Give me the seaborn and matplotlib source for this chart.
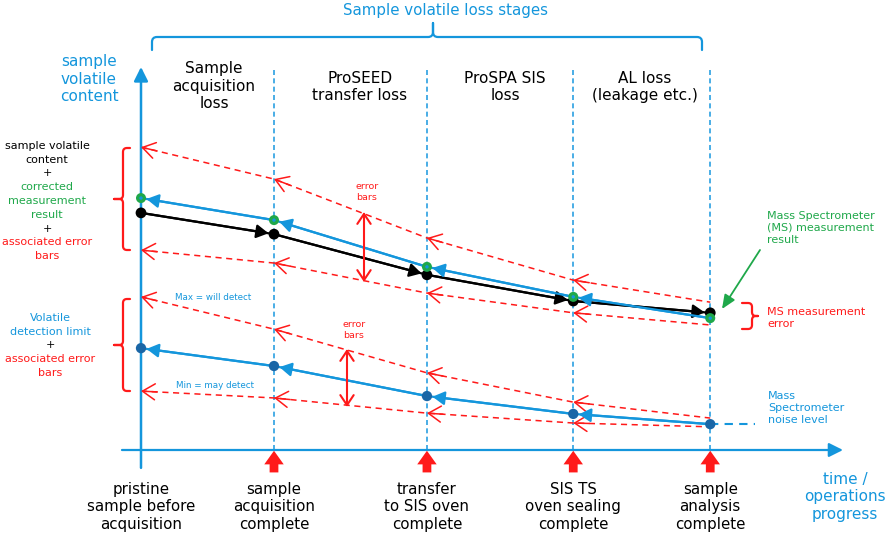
import numpy as np
import pandas as pd
import matplotlib
matplotlib.use('Agg')
import matplotlib.pyplot as plt
import matplotlib.transforms as mtransforms
from matplotlib.path import Path
from matplotlib.patches import PathPatch
import seaborn as sns

# progress of operations along the time axis (one value per stage)
stage_time = [0.0, 1.0, 2.15, 3.25, 4.28]
stage_labels = ['pristine\nsample before\nacquisition', 'sample\nacquisition\ncomplete',
                'transfer\nto SIS oven\ncomplete', 'SIS TS\noven sealing\ncomplete',
                'sample\nanalysis\ncomplete']
loss_labels = ['Sample\nacquisition\nloss', 'ProSEED\ntransfer loss', 'ProSPA SIS\nloss',
               'AL loss\n(leakage etc.)']

# sample volatile content (arbitrary units, 0 = time axis, 100 = top of axis)
true_content = [62.4, 56.8, 46.1, 39.2, 36.1]
corrected_result = [66.3, 60.5, 48.2, 40.3, 34.7]
result_err_max = [79.7, 71.3, 55.8, 44.7, 38.9]
result_err_min = [52.6, 49.2, 41.3, 36.1, 32.9]
detect_limit = [26.8, 22.1, 14.2, 9.5, 6.8]
detect_max = [40.3, 31.8, 20.3, 12.6, 8.4]
detect_min = [15.5, 13.7, 9.7, 7.1, 6.1]

BLUE = '#1496dc'
DBLUE = '#1a66a6'
RED = '#ff1a1a'
GREEN = '#1fa84a'

sns.set_theme(style='white')
plt.rcParams['font.family'] = ['DejaVu Sans']

fig = plt.figure(figsize=(8.86, 5.35), dpi=100)
ax = fig.add_axes([0, 0, 1, 1])
ax.set_xlim(-141 / 133, 745 / 133)
ax.set_ylim((450 - 535) / 3.8, 450 / 3.8)
ax.axis('off')

# pixel transform for the layout items (y goes down)
pix = mtransforms.Affine2D().scale(1 / 886, -1 / 535).translate(0, 1) + fig.transFigure

# axes drawn as arrows
ax.annotate('', xy=(0, 100.8), xytext=(0, -4.7),
            arrowprops=dict(arrowstyle='-|>,head_length=0.6,head_width=0.3', color=BLUE,
                            lw=1.8, shrinkA=0, shrinkB=0, mutation_scale=14))
ax.annotate('', xy=(5.278, 0), xytext=(-0.143, 0),
            arrowprops=dict(arrowstyle='-|>,head_length=0.6,head_width=0.3', color=BLUE,
                            lw=1.6, shrinkA=0, shrinkB=0, mutation_scale=14))
ax.vlines(stage_time[1:], 0, 100, colors='#2aa0e2', linestyles=(0, (3, 2)), lw=1.2)

# red stage markers under the time axis
for t in stage_time[1:]:
    ax.annotate('', xy=(t, -0.2), xytext=(t, -5.9),
                arrowprops=dict(arrowstyle='simple,head_length=0.7,head_width=1.0,tail_width=0.45',
                                color=RED, lw=0, shrinkA=0, shrinkB=0, mutation_scale=14))


def dashed_with_heads(ys):
    sns.lineplot(x=stage_time, y=ys, ax=ax, color=RED, lw=1.1, linestyle=(0, (4, 3)),
                 sort=False, estimator=None, legend=False)
    for i in range(4):
        f = 0.12 / (stage_time[i + 1] - stage_time[i])
        ax.annotate('', xy=(stage_time[i], ys[i]),
                    xytext=(stage_time[i] + 0.12, ys[i] + (ys[i + 1] - ys[i]) * f),
                    arrowprops=dict(arrowstyle='->,head_length=0.75,head_width=0.48', color=RED,
                                    lw=1.1, shrinkA=0, shrinkB=0, mutation_scale=12))


def solid_with_heads(ys, color, forward, shrink=4):
    sns.lineplot(x=stage_time, y=ys, ax=ax, color=color, lw=1.6, sort=False,
                 estimator=None, legend=False)
    for i in range(4):
        a, b = (i, i + 1) if forward else (i + 1, i)
        ax.annotate('', xy=(stage_time[b], ys[b]), xytext=(stage_time[a], ys[a]),
                    arrowprops=dict(arrowstyle='-|>,head_length=0.6,head_width=0.34', color=color,
                                    lw=1.6, shrinkA=0, shrinkB=shrink, mutation_scale=12))


# sample content group
dashed_with_heads(result_err_max)
dashed_with_heads(result_err_min)
solid_with_heads(true_content, 'black', True)
solid_with_heads(corrected_result, BLUE, False)
sns.scatterplot(x=stage_time, y=true_content, ax=ax, color='black', s=60, edgecolor='none', zorder=5)
sns.scatterplot(x=stage_time, y=corrected_result, ax=ax, color=GREEN, s=52, edgecolor='none', zorder=6)
sns.scatterplot(x=stage_time, y=corrected_result, ax=ax, color=BLUE, s=6, edgecolor='none', zorder=7)

# detection limit group
dashed_with_heads(detect_max)
dashed_with_heads(detect_min)
solid_with_heads(detect_limit, BLUE, False)
sns.scatterplot(x=stage_time, y=detect_limit, ax=ax, color=DBLUE, s=55, edgecolor='none', zorder=6)
ax.plot([stage_time[-1], stage_time[-1] + 0.34], [detect_limit[-1]] * 2, color=BLUE, lw=1.5,
        linestyle=(0, (4, 3)))


def brace(a, b, c, s, tip, hook, r, vertical, color, m=None, lw=1.6):
    m = (a + b) / 2 if m is None else m
    uv = [(a, c - s * hook), (a, c - s * r), (a, c), (a + r, c), (m - r, c), (m, c), (m, c + s * r),
          (m, c + s * tip), (m, c + s * r), (m, c), (m + r, c), (b - r, c), (b, c), (b, c - s * r),
          (b, c - s * hook)]
    codes = [Path.MOVETO, Path.LINETO, Path.CURVE3, Path.CURVE3, Path.LINETO, Path.CURVE3,
             Path.CURVE3, Path.LINETO, Path.LINETO, Path.CURVE3, Path.CURVE3, Path.LINETO,
             Path.CURVE3, Path.CURVE3, Path.LINETO]
    verts = [(v, u) for u, v in uv] if vertical else uv
    ax.add_patch(PathPatch(Path(verts, codes), fill=False, edgecolor=color, lw=lw,
                           transform=pix, capstyle='round', joinstyle='round'))


brace(152, 702, 37, -1, 14, 13, 5, False, BLUE, m=433)
brace(148, 250, 123, -1, 9, 7, 4, True, RED)
brace(299, 391, 123, -1, 9, 7, 4, True, RED)
brace(303, 329, 752, 1, 6, 10, 4, True, RED)

# error bar arrows
for x, y0, y1 in [(364, 212, 282), (347, 349, 407)]:
    ax.annotate('', xy=(x, y0), xytext=(x, y1), xycoords=pix, textcoords=pix,
                arrowprops=dict(arrowstyle='<->,head_length=0.6,head_width=0.4', color=RED, lw=1.5,
                                shrinkA=0, shrinkB=0, mutation_scale=12))
ax.annotate('', xy=(722, 309), xytext=(760, 250), xycoords=pix, textcoords=pix,
            arrowprops=dict(arrowstyle='-|>,head_length=0.7,head_width=0.3', color=GREEN, lw=1.3,
                            shrinkA=0, shrinkB=0, mutation_scale=12))

# texts
def txt(x, y, s, color='black', size=8, ha='center', **kw):
    ax.text(x, y, s, transform=pix, color=color, fontsize=size, ha=ha, va='center',
            linespacing=1.2, **kw)


txt(446, 10, 'Sample volatile loss stages', BLUE, 10.8)
txt(89, 79, 'sample\nvolatile\ncontent', BLUE, 11)
for x, y, s in zip([214, 360, 505, 645], [86, 87, 87, 87], loss_labels):
    txt(x, y, s, 'black', 11)
for t, s in zip(stage_time, stage_labels):
    ax.text(t, -14.9, s, color='black', fontsize=10.8, ha='center', va='center', linespacing=1.2)
txt(845, 497, 'time /\noperations\nprogress', BLUE, 11)

left_top = [('sample volatile', 'black'), ('content', 'black'), ('+', 'black'),
            ('corrected', GREEN), ('measurement', GREEN), ('result', GREEN), ('+', 'black'),
            ('associated error', RED), ('bars', RED)]
for k, (s, c) in enumerate(left_top):
    txt(47, 146 + k * 13.75, s, c, 8)
left_bot = [('Volatile', BLUE), ('detection limit', BLUE), ('+', 'black'),
            ('associated error', RED), ('bars', RED)]
for k, (s, c) in enumerate(left_bot):
    txt(50, 318 + k * 13.75, s, c, 8)

txt(213, 297, 'Max = will detect', BLUE, 6.3)
txt(215, 386, 'Min = may detect', BLUE, 6.3)
txt(367, 192, 'error\nbars', RED, 6.8)
txt(354, 330, 'error\nbars', RED, 6.8)
txt(767, 228, 'Mass Spectrometer\n(MS) measurement\nresult', GREEN, 8, ha='left')
txt(767, 318, 'MS measurement\nerror', RED, 8, ha='left')
txt(768, 408, 'Mass\nSpectrometer\nnoise level', BLUE, 8, ha='left')

fig.savefig('out.png', dpi=100)
